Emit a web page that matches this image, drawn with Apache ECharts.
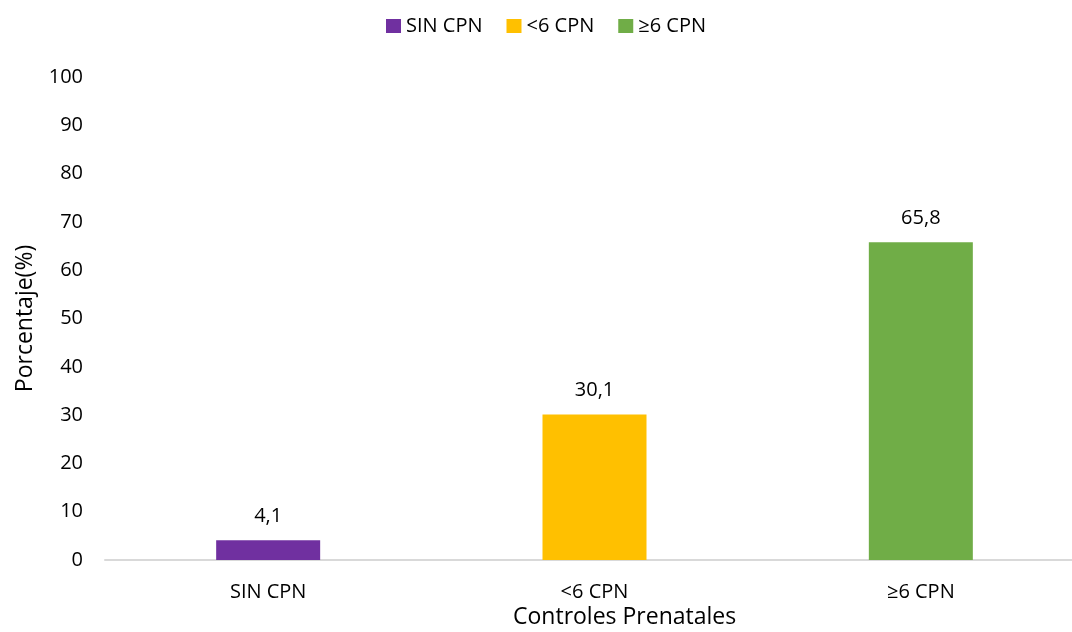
<!DOCTYPE html>
<html>
<head>
<meta charset="utf-8">
<script src="https://cdn.jsdelivr.net/npm/echarts@6/dist/echarts.min.js"></script>
<style>
  html, body { margin: 0; padding: 0; background: #fff; overflow: hidden; }
  #chart { width: 1072px; height: 632px; }
</style>
</head>
<body>
<div id="chart"></div>
<script>
// Controles prenatales: porcentaje por categoría
const categories = ['SIN CPN', '<6 CPN', '≥6 CPN'];
const values = [4.1, 30.1, 65.8];
const colors = ['#7030A0', '#FFC000', '#70AD47'];
const yTicks = { min: 0, max: 100, interval: 10 };

const FONT = 'Open Sans';

// One series per category so each gets its own legend entry
const series = categories.map((name, i) => ({
  name: name,
  type: 'bar',
  stack: 'cpn',
  barWidth: 104,
  itemStyle: { color: colors[i] },
  label: {
    show: true,
    position: 'top',
    distance: 14,
    color: '#000',
    fontFamily: FONT,
    fontSize: 20,
    formatter: p => String(p.value).replace('.', ',')
  },
  data: categories.map((c, j) => (j === i ? values[i] : null))
}));

const chart = echarts.init(document.getElementById('chart'));
chart.setOption({
  animation: false,
  legend: {
    top: 11,
    left: 381,
    itemWidth: 15,
    itemHeight: 14,
    itemGap: 24,
    icon: 'rect',
    textStyle: { fontFamily: FONT, fontSize: 20, color: '#000', padding: [0, 0, 0, 0] },
    data: categories
  },
  // the plot area runs slightly past the right edge of the canvas
  grid: { left: 105, right: -12, top: 77, bottom: 72, outerBoundsMode: 'none', containLabel: false },
  xAxis: {
    type: 'category',
    data: categories,
    axisLine: { lineStyle: { color: '#d9d9d9', width: 2 } },
    axisTick: { show: false },
    axisLabel: { color: '#000', fontFamily: FONT, fontSize: 20, margin: 22 }
  },
  yAxis: {
    type: 'value',
    min: yTicks.min,
    max: yTicks.max,
    interval: yTicks.interval,
    name: 'Porcentaje(%)',
    nameLocation: 'middle',
    nameGap: 68,
    nameTextStyle: { color: '#000', fontFamily: FONT, fontSize: 23 },
    axisLine: { show: false },
    axisTick: { show: false },
    splitLine: { show: false },
    axisLabel: { color: '#000', fontFamily: FONT, fontSize: 20, margin: 22 }
  },
  graphic: [{
    type: 'text',
    left: 513,
    top: 606,
    style: { text: 'Controles Prenatales', fill: '#000', font: '23px "Open Sans"' }
  }],
  series: series
});
</script>
</body>
</html>
